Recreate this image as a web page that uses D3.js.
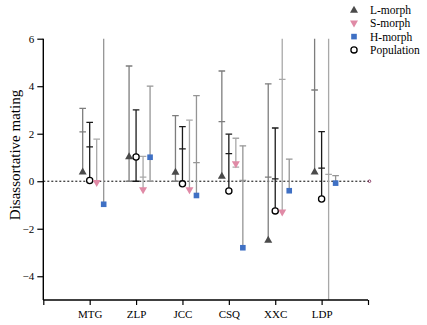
<!DOCTYPE html>
<html><head><meta charset="utf-8">
<script src="https://cdn.jsdelivr.net/npm/d3@7"></script>
<style>body{margin:0;background:#fff}svg{display:block}text{font-family:"Liberation Serif","Times New Roman",serif}</style>
</head><body>
<svg id="c" width="427" height="325"></svg>
<script>
const categories = ["MTG","ZLP","JCC","CSQ","XXC","LDP"];
const yTicks = [-4,-2,0,2,4,6];
const seriesNames = ["L-morph","S-morph","H-morph","Population"];
// means, lower ends, upper ends, and extra (inner) caps
const lMean  = [0.40, 1.04, 0.39, 0.22, -2.47, 0.40];
const lLo    = [0.40, 0.00, 0.00, 0.22, -2.47, 0.40];
const lHi    = [3.07, 4.85, 2.76, 4.64, 4.10, 7.00];
const lInner = [2.08, null, null, 2.51, 0.17, 3.84];
const sMean  = [-0.07, -0.37, -0.37, 0.72, -1.31, -5.60];
const sLo    = [-0.07, -0.37, -0.37, 0.59, -1.31, -5.60];
const sHi    = [1.77, 1.05, 2.57, 1.81, 7.00, 7.00];
const sInner = [null, 0.17, null, null, 4.29, 0.29];
const hMean  = [-0.97, 1.01, -0.60, -2.80, -0.40, -0.08];
const hLo    = [-0.97, 0.00, -0.60, -2.80, -0.40, -0.08];
const hHi    = [7.00, 4.00, 3.60, 1.49, 0.93, 0.24];
const hInner = [null, null, 0.78, 0.03, null, null];
const pMean  = [0.03, 1.02, -0.11, -0.41, -1.25, -0.75];
const pLo    = [0.03, 0.00, -0.11, -0.41, -1.25, -0.75];
const pHi    = [2.48, 3.00, 2.30, 1.98, 2.24, 2.09];
const pInner = [1.45, null, 1.36, 1.16, 0.10, 0.55];

const svg = d3.select("#c");
const x = d3.scaleLinear().domain([0, 7]).range([43.3, 368]);
const y = d3.scaleLinear().domain([-5, 6]).range([300, 38.7]);

const series = [
  {name:"L-morph", mean:lMean, lo:lLo, hi:lHi, inner:lInner, off:-7, bar:"#7d7d7d", marker:"tri", fill:"#4a4a4a"},
  {name:"Population", mean:pMean, lo:pLo, hi:pHi, inner:pInner, off:0, bar:"#1a1a1a", marker:"circle", fill:"#fff"},
  {name:"S-morph", mean:sMean, lo:sLo, hi:sHi, inner:sInner, off:7, bar:"#a8a8a8", marker:"tridown", fill:"#e08aa6"},
  {name:"H-morph", mean:hMean, lo:hLo, hi:hHi, inner:hInner, off:14, bar:"#959595", marker:"square", fill:"#3f70c4"}
];

svg.append("defs").append("clipPath").attr("id","clip").append("rect")
  .attr("x", 43).attr("y", y(6)).attr("width", 330).attr("height", y(-5) - y(6));

// zero reference line
svg.append("line").attr("x1", x(0)).attr("x2", x(7) + 1).attr("y1", y(0)).attr("y2", y(0))
  .attr("stroke", "#000").attr("stroke-width", 1).attr("stroke-dasharray", "2,2");
svg.append("circle").attr("cx", x(7) + 1.5).attr("cy", y(0)).attr("r", 1.3)
  .attr("fill", "none").attr("stroke", "#7a2050").attr("stroke-width", 0.8);

const g = svg.append("g").attr("clip-path", "url(#clip)");
const capW = 3.3;
function drawSeries(s) {
  const grp = g.append("g");
  categories.forEach((c, i) => {
    const cx = x(i + 1) + s.off;
    const lo = Math.min(s.lo[i], s.mean[i]);
    grp.append("line").attr("x1", cx).attr("x2", cx).attr("y1", y(lo)).attr("y2", y(s.hi[i]))
      .attr("stroke", s.bar).attr("stroke-width", 1.3);
    const caps = [s.hi[i]];
    if (s.inner[i] !== null) caps.push(s.inner[i]);
    if (s.lo[i] !== s.mean[i]) caps.push(s.lo[i]);
    caps.forEach(v => {
      grp.append("line").attr("x1", cx - capW).attr("x2", cx + capW).attr("y1", y(v)).attr("y2", y(v))
        .attr("stroke", s.bar).attr("stroke-width", 1.3);
    });
  });
}
function drawMarker(sel, type, cx, cy, fill) {
  if (type === "tri") {
    sel.append("path").attr("d", `M${cx},${cy-4.2}L${cx+4},${cy+2.8}L${cx-4},${cy+2.8}Z`).attr("fill", fill);
  } else if (type === "tridown") {
    sel.append("path").attr("d", `M${cx},${cy+4.2}L${cx+4},${cy-2.8}L${cx-4},${cy-2.8}Z`).attr("fill", fill);
  } else if (type === "square") {
    sel.append("rect").attr("x", cx-2.8).attr("y", cy-2.8).attr("width", 5.6).attr("height", 5.6).attr("fill", fill);
  } else {
    sel.append("circle").attr("cx", cx).attr("cy", cy).attr("r", 3.1).attr("fill", "#fff")
      .attr("stroke", "#000").attr("stroke-width", 1.3);
  }
}
series.forEach(drawSeries);
series.forEach(s => {
  categories.forEach((c, i) => {
    drawMarker(g, s.marker, x(i + 1) + s.off, y(s.mean[i]), s.fill);
  });
});

// axes
const yAxis = d3.axisLeft(y).tickValues(yTicks).tickSize(6).tickPadding(3);
const ya = svg.append("g").attr("transform", `translate(${x(0)},0)`).call(yAxis);
ya.select(".domain").attr("d", `M0,${y(6)}V${y(-5)}`).attr("stroke-width", 1.4);
ya.selectAll(".tick line").attr("stroke-width", 1.2);
ya.selectAll("text").attr("font-size", 11).attr("font-family", "Liberation Serif").attr("fill", "#000");

const xAxis = d3.axisBottom(x).tickValues(d3.range(0, 8)).tickSize(5).tickPadding(5)
  .tickFormat(d => (d >= 1 && d <= 6) ? categories[d - 1] : "");
const xa = svg.append("g").attr("transform", `translate(0,${y(-5)})`).call(xAxis);
xa.select(".domain").attr("d", `M${x(0)},0H${x(7)}`).attr("stroke-width", 1.4);
xa.selectAll(".tick line").attr("stroke-width", 1.2);
xa.selectAll("text").attr("font-size", 11).attr("font-family", "Liberation Serif").attr("fill", "#000");

// y title
svg.append("text").attr("transform", "translate(20,155) rotate(-90)").attr("text-anchor", "middle")
  .attr("font-size", 15).text("Disassortative mating");

// legend
const legendOrder = [
  {name:"L-morph", marker:"tri", fill:"#4a4a4a"},
  {name:"S-morph", marker:"tridown", fill:"#e08aa6"},
  {name:"H-morph", marker:"square", fill:"#3f70c4"},
  {name:"Population", marker:"circle", fill:"#fff"}
];
const lg = svg.append("g");
legendOrder.forEach((d, i) => {
  const ly = 10 + i * 13.3;
  drawMarker(lg, d.marker, 354, ly, d.fill);
  lg.append("text").attr("x", 370).attr("y", ly + 4).attr("font-size", 11.5).text(d.name);
});
</script>
</body></html>
